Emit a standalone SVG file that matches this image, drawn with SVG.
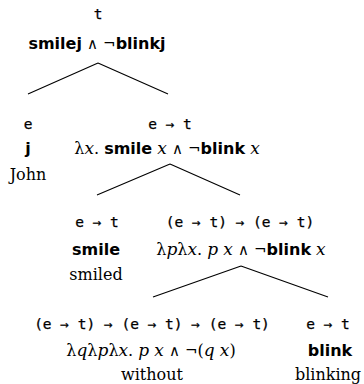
<svg xmlns="http://www.w3.org/2000/svg" width="364" height="384" viewBox="0 0 364 384">
<style>
.ty{font-family:"DejaVu Sans Mono",monospace;font-size:14.5px;fill:#000;stroke:#000;stroke-width:0.25}
.lf{font-family:"DejaVu Serif",serif;font-size:16px;fill:#000}
.b{font-family:"DejaVu Sans",sans-serif;font-weight:bold;font-size:16px}
.v{font-family:"DejaVu Serif",serif;font-style:italic;font-size:17px}
.op{font-family:"DejaVu Sans",sans-serif;font-size:15px}
.w{font-family:"DejaVu Serif",serif;font-size:16px;fill:#000}
.e{stroke:#000;stroke-width:1.1;fill:none}
text{text-anchor:middle}
</style>
<rect width="364" height="384" fill="#fff"/>
<g id="connectors">
<path class="e" d="M98 63 L28 94 M98 63 L168 94"/>
<path class="e" d="M170 164 L97 195 M170 164 L240 195"/>
<path class="e" d="M241 266 L153 297 M241 266 L328 297"/>
</g>
<g id="root">
<text class="ty" x="98" y="19">t</text>
<text class="lf" x="97" y="49"><tspan class="b">smilej</tspan> <tspan class="op">∧</tspan> <tspan class="op">¬</tspan><tspan class="b">blinkj</tspan></text>
</g>
<g id="john">
<text class="ty" x="28" y="129">e</text>
<text class="lf" x="28" y="154"><tspan class="b">j</tspan></text>
<text class="w" x="28" y="180">John</text>
</g>
<g id="vp">
<text class="ty" x="170" y="129">e → t</text>
<text class="lf" x="167" y="154">λ<tspan class="v">x</tspan>. <tspan class="b">smile</tspan> <tspan class="v">x</tspan> <tspan class="op">∧</tspan> <tspan class="op">¬</tspan><tspan class="b">blink</tspan> <tspan class="v">x</tspan></text>
</g>
<g id="smiled">
<text class="ty" x="97" y="227">e → t</text>
<text class="lf" x="96" y="255"><tspan class="b">smile</tspan></text>
<text class="w" x="96" y="280">smiled</text>
</g>
<g id="adjunct">
<text class="ty" x="240" y="227">(e → t) → (e → t)</text>
<text class="lf" x="241" y="255">λ<tspan class="v">p</tspan>λ<tspan class="v">x</tspan>. <tspan class="v">p</tspan> <tspan class="v">x</tspan> <tspan class="op">∧</tspan> <tspan class="op">¬</tspan><tspan class="b">blink</tspan> <tspan class="v">x</tspan></text>
</g>
<g id="without">
<text class="ty" x="152" y="329">(e → t) → (e → t) → (e → t)</text>
<text class="lf" x="151" y="356">λ<tspan class="v">q</tspan>λ<tspan class="v">p</tspan>λ<tspan class="v">x</tspan>. <tspan class="v">p</tspan> <tspan class="v">x</tspan> <tspan class="op">∧</tspan> <tspan class="op">¬</tspan>(<tspan class="v">q</tspan> <tspan class="v">x</tspan>)</text>
<text class="w" x="152" y="380">without</text>
</g>
<g id="blinking">
<text class="ty" x="328" y="329">e → t</text>
<text class="lf" x="330" y="356"><tspan class="b">blink</tspan></text>
<text class="w" x="328" y="380">blinking</text>
</g>
</svg>
